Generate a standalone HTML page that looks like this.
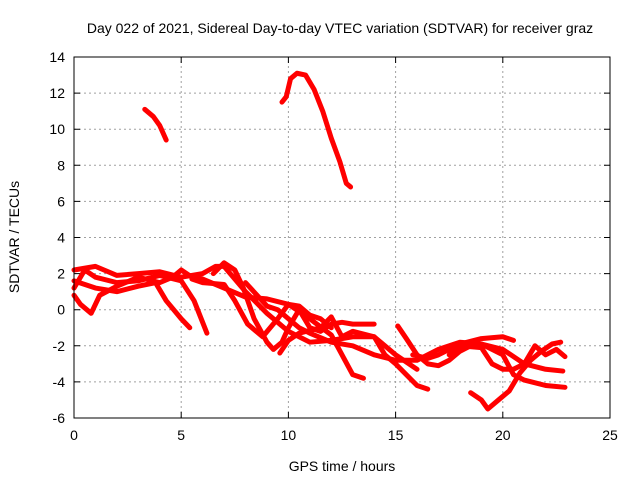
<!DOCTYPE html>
<html><head><meta charset="utf-8"><style>
body{margin:0;background:#fff}
svg text{font-family:"Liberation Sans",sans-serif;font-size:14px;fill:#000}
</style></head><body>
<svg width="640" height="480" id="c">
<rect width="640" height="480" fill="#fff"/>
<text x="340" y="33" text-anchor="middle">Day 022 of 2021, Sidereal Day-to-day VTEC variation (SDTVAR) for receiver graz</text>
<text x="342" y="471" text-anchor="middle">GPS time / hours</text>
<text transform="translate(19,237) rotate(-90)" text-anchor="middle">SDTVAR / TECUs</text>
<g id="grid"></g><g id="series"></g>
<rect x="74" y="57" width="536" height="361" fill="none" stroke="#000" stroke-width="1"/>
</svg>
<script>
const xTicks=[0,5,10,15,20,25];
const yTicks=[-6,-4,-2,0,2,4,6,8,10,12,14];
const s1=[[3.3,11.1],[3.7,10.7],[4.0,10.2],[4.3,9.4]];
const s2=[[9.7,11.5],[9.9,11.8],[10.1,12.8],[10.4,13.1],[10.8,13.0],[11.2,12.2],[11.6,11.0],[12.0,9.5],[12.4,8.2],[12.7,7.0],[12.9,6.8]];
const sA=[[0,1.2],[0.5,2.2],[1,1.8],[2,1.5],[3,1.6],[4,1.9],[5,1.6],[5.6,0.5],[6.2,-1.3]];
const sB=[[0,0.8],[0.3,0.3],[0.8,-0.2],[1.2,0.8],[2,1.3],[3,1.8],[4,1.5],[4.6,1.8],[5,2.2],[5.5,1.8],[6,1.7],[7,1.2],[8,0.7],[9,0.6],[10,0.3],[11,-0.5],[12,-1.4],[12.5,-2.5],[13,-3.6],[13.5,-3.8]];
const sC=[[0,1.6],[1,1.2],[2,1.0],[3,1.3],[3.8,1.5],[4.3,0.5],[5,-0.5],[5.4,-1.0]];
const sD=[[0,2.2],[1,2.4],[2,1.9],[3,2.0],[4,2.1],[5,1.8],[6,2.0],[6.6,2.4],[7,2.4],[7.5,1.7],[8,1.0],[9,-0.2],[10,-1.2],[11,-1.8],[12,-1.7],[13,-1.5],[14,-1.5],[15,-2.5],[16,-3.3]];
const sE=[[6.5,2.0],[7,2.6],[7.5,2.2],[7.9,1.2],[8.4,-0.5],[9,-1.8],[9.3,-2.2],[9.7,-1.8],[10,-1.0],[10.5,0.0],[11,-1.0],[11.5,-1.2],[12,-0.8],[12.5,-0.7],[13,-0.8],[14,-0.8]];
const sF=[[5.5,1.7],[6,1.5],[7,1.4],[7.5,0.5],[8.1,-0.8],[8.8,-1.5],[9.5,-0.5],[10,0.3],[10.5,0.2],[11,-0.3],[11.5,-0.5],[12,-1.0]];
const sG=[[8,1.5],[9,0.2],[9.5,0.0],[10,-0.5],[10.5,-1.0],[11,-1.3],[12,-1.8],[13,-2.0],[14,-2.5],[15,-2.8],[16,-2.8],[17,-2.2],[18,-1.8],[19,-1.9],[20,-2.2],[21,-3.0],[22,-3.3],[22.8,-3.4]];
const sH=[[9.6,-2.4],[10,-1.7],[10.5,-1.3],[11.5,-1.0],[12,-0.4],[12.5,-1.5],[13,-1.2],[14,-1.5],[14.5,-2.5],[15,-3.0],[16,-4.2],[16.5,-4.4]];
const sI=[[15.1,-0.9],[15.5,-1.6],[16,-2.5],[16.5,-3.0],[17,-3.1],[17.5,-2.8],[18,-2.3],[18.5,-2.0],[19,-1.9],[20,-2.5],[20.5,-3.6],[21,-3.9],[22,-4.2],[22.9,-4.3]];
const sJ=[[17.5,-2.5],[18,-2.0],[19,-2.1],[19.5,-3.0],[20,-3.3],[20.5,-3.3],[21,-3.0],[21.5,-2.0],[22,-2.5],[22.5,-2.2],[22.9,-2.6]];
const sK=[[18.5,-4.6],[19,-5.0],[19.3,-5.5],[19.8,-5.0],[20.3,-4.5],[20.8,-3.5],[21.3,-2.8],[21.8,-2.3],[22.3,-1.9],[22.7,-1.8]];
const sL=[[15.8,-2.5],[16.5,-2.7],[17,-2.5],[18,-1.9],[19,-1.6],[20,-1.5],[20.5,-1.7]];
const allSeries=[s1,s2,sA,sB,sC,sD,sE,sF,sG,sH,sI,sJ,sK,sL];
const X0=74,X1=610,Y0=418,Y1=57;
const xs=v=>X0+(v-0)/25*(X1-X0);
const ys=v=>Y0-(v+6)/20*(Y0-Y1);
const NS="http://www.w3.org/2000/svg";
const g=document.getElementById('grid'),sg=document.getElementById('series');
function mk(t,a){const e=document.createElementNS(NS,t);for(const k in a)e.setAttribute(k,a[k]);return e;}
xTicks.forEach(v=>{const x=xs(v);
 if(v>0&&v<25){const l=mk('line',{x1:x,x2:x,y1:Y0,y2:Y1,stroke:'#a0a0a0','stroke-dasharray':'2,3'});
 
 g.appendChild(l);}
 const tk=mk('path',{d:`M${x},${Y0}v-6M${x},${Y1}v6`,stroke:'#000'});
 
 g.appendChild(tk);
 const t=mk('text',{x:x,y:Y0+22,'text-anchor':'middle'});t.textContent=v;
 
 g.appendChild(t);});
yTicks.forEach(v=>{const y=ys(v);
 if(v>-6&&v<14){const l=mk('line',{x1:X0,x2:X1,y1:y,y2:y,stroke:'#a0a0a0','stroke-dasharray':'2,3'});
 
 g.appendChild(l);}
 const tk=mk('path',{d:`M${X0},${y}h6M${X1},${y}h-6`,stroke:'#000'});
 
 g.appendChild(tk);
 const t=mk('text',{x:X0-9,y:y+5,'text-anchor':'end'});t.textContent=v;
 
 g.appendChild(t);});
allSeries.forEach((s,i)=>{
 const p=mk('polyline',{points:s.map(d=>xs(d[0])+','+ys(d[1])).join(' '),fill:'none',stroke:'#ff0000','stroke-width':5,'stroke-linejoin':'round','stroke-linecap':'round'});
 
 
 sg.appendChild(p);});
</script>
</body></html>
